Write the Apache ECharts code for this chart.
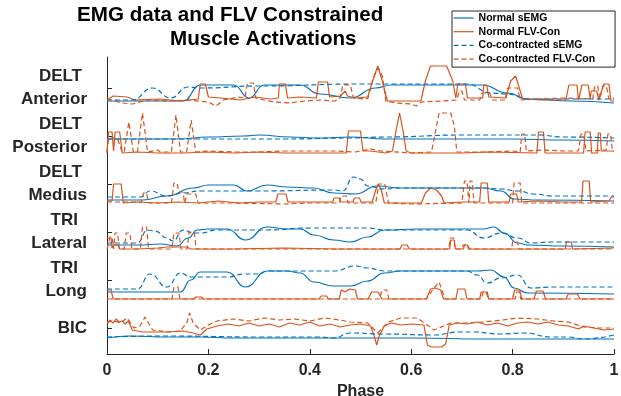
<!DOCTYPE html>
<html>
<head>
<meta charset="utf-8">
<script src="https://cdn.jsdelivr.net/npm/echarts@6/dist/echarts.min.js"></script>
<style>
html, body { margin: 0; padding: 0; background: #fff; }
#chart { width: 621px; height: 396px; }
</style>
</head>
<body>
<div id="chart"></div>
<script>
// rows from top to bottom, label lines
const muscles = [['DELT', 'Anterior'], ['DELT', 'Posterior'], ['DELT', 'Medius'], ['TRI', 'Lateral'], ['TRI', 'Long'], ['', 'BIC']];
const seriesNames = ['Normal sEMG', 'Normal FLV-Con', 'Co-contracted sEMG', 'Co-contracted FLV-Con'];
const rowGap = 48;

// [phase, activation relative to the row tick]
const antNormEmg = [[0,-13],[0.08,-13],[0.15,-13],[0.184,3],[0.25,3],[0.28,-10],[0.31,3],[0.38,3],[0.42,-6],[0.48,-10],[0.53,0],[0.56,3],[0.74,3],[0.79,-5],[0.83,-11],[0.915,-13],[1,-15]];
const antNormFlv = [[0,-12],[0.012,-8],[0.04,-9],[0.055,-12],[0.105,-11],[0.144,-13],[0.18,-11],[0.184,4],[0.194,4],[0.2,-9],[0.223,-10],[0.263,-12],[0.292,-9],[0.322,-11],[0.338,-10],[0.34,4],[0.352,4],[0.356,-10],[0.381,-9],[0.413,-10],[0.417,6],[0.435,6],[0.439,-9],[0.46,-8],[0.47,-3],[0.474,-8],[0.49,-10],[0.514,-9],[0.524,7],[0.534,22],[0.543,7],[0.553,-13],[0.579,-13],[0.619,-13],[0.628,7],[0.638,22],[0.67,22],[0.682,7],[0.688,-10],[0.692,4],[0.707,4],[0.711,-10],[0.741,-10],[0.743,3],[0.749,3],[0.753,-9],[0.787,-10],[0.796,7],[0.806,12],[0.812,2],[0.82,-11],[0.856,-12],[0.905,-12],[0.911,3],[0.927,3],[0.93,-12],[0.937,3],[0.949,3],[0.953,-11],[0.955,-3],[0.966,-3],[0.97,-12],[0.98,4],[0.99,4],[0.994,-13],[1,-13]];
const antCoEmg = [[0,-12],[0.05,-12],[0.09,0],[0.125,-10],[0.16,1],[0.185,0],[0.3,2],[0.5,4],[0.71,4],[0.757,-5],[0.79,-6],[0.83,-11],[1,-11]];
const antCoFlv = [[0,-11],[0.03,-15],[0.05,-16],[0.08,-12],[0.12,-13],[0.16,-12],[0.2,-14],[0.215,-18],[0.23,-12],[0.26,-9],[0.272,-10],[0.277,5],[0.289,5],[0.293,-10],[0.31,-12],[0.33,-14],[0.36,-15],[0.39,-13],[0.42,-12],[0.45,-13],[0.46,-10],[0.465,3],[0.48,3],[0.486,-10],[0.51,-11],[0.515,-10],[0.525,10],[0.535,20],[0.543,12],[0.55,-13],[0.57,-15],[0.6,-16],[0.61,-18],[0.62,-14],[0.66,-13],[0.69,-12],[0.695,-3],[0.7,-3],[0.705,-12],[0.735,-12],[0.74,-5],[0.755,-5],[0.76,-12],[0.785,-12],[0.79,0],[0.81,0],[0.815,-12],[0.85,-11],[0.9,-10],[0.958,-11],[0.962,2],[0.968,2],[0.972,-11],[0.978,2],[0.985,2],[0.99,-11],[1,-10]];

const posNormEmg = [[0,-3],[0.14,-3],[0.2,-1],[0.27,0],[0.3,1],[0.36,-1],[0.42,-2],[0.48,-1],[0.55,-3],[0.65,-3],[0.8,-3],[0.9,-4],[1,-5]];
const posNormFlv = [[0,-17],[0.003,4],[0.01,4],[0.013,-15],[0.016,4],[0.025,4],[0.03,-17],[0.06,-16],[0.1,-17],[0.15,-17],[0.2,-16],[0.25,-17],[0.3,-16],[0.35,-17],[0.44,-17],[0.472,-17],[0.476,5],[0.5,5],[0.505,-15],[0.52,-15],[0.55,-17],[0.563,-15],[0.57,5],[0.577,23],[0.584,5],[0.59,-15],[0.6,-17],[0.65,-17],[0.7,-17],[0.75,-16],[0.848,-17],[0.851,4],[0.861,4],[0.864,-17],[0.94,-17],[0.943,4],[0.953,4],[0.956,-17],[0.967,-17],[0.969,3],[0.973,3],[0.975,-15],[1,-15]];
const posCoEmg = [[0,-3],[0.2,-3],[0.35,-3],[0.48,-2],[0.55,-1],[0.7,1],[0.85,1],[0.9,-1],[1,-2]];
const posCoFlv = [[0,-16],[0.003,-2],[0.02,-2],[0.03,-16],[0.034,-16],[0.043,14],[0.052,-16],[0.06,-16],[0.07,23],[0.08,-16],[0.1,-14],[0.105,-16],[0.127,-16],[0.136,21],[0.145,-16],[0.157,-16],[0.166,16],[0.175,-16],[0.2,-15],[0.25,-16],[0.3,-16],[0.35,-15],[0.4,-15],[0.45,-15],[0.49,-16],[0.52,-13],[0.54,-15],[0.6,-17],[0.64,-16],[0.65,10],[0.655,23],[0.678,23],[0.685,10],[0.69,-16],[0.75,-16],[0.8,-15],[0.815,-16],[0.818,2],[0.824,2],[0.827,-15],[0.86,-14],[0.9,-15],[0.93,-15],[0.935,2],[0.94,2],[0.945,-15],[0.985,-14],[0.988,2],[0.993,2],[0.997,-15],[1,-15]];

const medNormEmg = [[0,-16],[0.07,-16],[0.118,-12],[0.17,-4],[0.2,-1],[0.25,-1],[0.276,-7],[0.316,-1],[0.355,-3],[0.408,-4],[0.447,-9],[0.49,-10],[0.533,-2],[0.58,-4],[0.68,-4],[0.743,-4],[0.777,-7],[0.803,-15],[0.85,-16],[1,-17]];
const medNormFlv = [[0,-17],[0.01,-17],[0.013,0],[0.028,0],[0.032,-19],[0.06,-18],[0.1,-19],[0.14,-18],[0.18,-19],[0.22,-17],[0.26,-19],[0.3,-18],[0.333,-18],[0.337,-10],[0.353,-10],[0.357,-18],[0.4,-18],[0.445,-18],[0.448,-14],[0.458,-14],[0.461,-18],[0.485,-18],[0.488,-14],[0.498,-14],[0.501,-18],[0.523,-18],[0.53,-6],[0.535,0],[0.541,-6],[0.547,-19],[0.58,-19],[0.62,-19],[0.628,-9],[0.638,-4],[0.65,-6],[0.66,-12],[0.665,-19],[0.7,-18],[0.735,-18],[0.738,1],[0.75,1],[0.753,-18],[0.793,-18],[0.796,-10],[0.808,-10],[0.811,-18],[0.85,-17],[0.9,-18],[0.936,-18],[0.939,3],[0.951,3],[0.954,-18],[0.99,-17],[0.995,-13],[1,-13]];
const medCoEmg = [[0,-13],[0.066,-13],[0.085,-7],[0.118,-12],[0.15,-9],[0.184,-7],[0.3,-7],[0.45,-6],[0.465,-7],[0.486,7],[0.5,5],[0.514,-2],[0.547,-5],[0.58,-4],[0.743,-4],[0.777,-5],[0.81,-7],[0.843,-10],[0.877,-12],[1,-12]];
const medCoFlv = [[0,-18],[0.068,-18],[0.072,-9],[0.078,-9],[0.082,-19],[0.127,-19],[0.132,1],[0.138,1],[0.142,-8],[0.15,-8],[0.153,-19],[0.158,-10],[0.175,-10],[0.18,-19],[0.25,-19],[0.35,-20],[0.4,-19],[0.458,-19],[0.462,-12],[0.472,-12],[0.476,-19],[0.53,-19],[0.536,0],[0.548,0],[0.555,-19],[0.6,-20],[0.7,-19],[0.705,3],[0.71,3],[0.714,-19],[0.716,3],[0.72,3],[0.724,-19],[0.8,-19],[0.803,1],[0.815,1],[0.818,-19],[0.9,-19],[1,-19]];

const latNormEmg = [[0,-13],[0.06,-13],[0.105,-12],[0.138,-14],[0.16,-6],[0.178,2],[0.2,3],[0.237,3],[0.273,-8],[0.316,5],[0.355,3],[0.381,3],[0.408,-3],[0.447,-8],[0.48,-10],[0.514,-5],[0.547,2],[0.613,3],[0.743,3],[0.763,5],[0.783,-1],[0.81,-11],[0.83,-13],[0.9,-14],[1,-15]];
const latNormFlv = [[0,-6],[0.008,-6],[0.01,-16],[0.014,-13],[0.022,-13],[0.025,-17],[0.06,-17],[0.1,-16],[0.118,-15],[0.158,-15],[0.165,-17],[0.25,-17],[0.35,-16],[0.45,-17],[0.55,-17],[0.578,-17],[0.582,-13],[0.592,-13],[0.596,-17],[0.676,-17],[0.678,-8],[0.685,-8],[0.687,-17],[0.703,-17],[0.705,-13],[0.711,-13],[0.713,-17],[0.8,-17],[0.904,-17],[0.906,-10],[0.916,-10],[0.918,-17],[1,-16]];
const latCoEmg = [[0,-11],[0.06,-11],[0.08,2],[0.095,1],[0.118,-6],[0.13,-9],[0.15,2],[0.17,-1],[0.184,-1],[0.217,2],[0.316,2],[0.4,4],[0.514,4],[0.547,2],[0.71,2],[0.743,-6],[0.777,-1],[0.81,-6],[0.836,-11],[0.877,-10],[1,-10]];
const latCoFlv = [[0,-17],[0.003,-17],[0.006,-5],[0.01,-5],[0.013,-17],[0.016,-1],[0.021,-1],[0.024,-17],[0.034,-17],[0.038,-1],[0.045,-1],[0.049,-17],[0.066,-17],[0.07,5],[0.078,5],[0.082,-17],[0.128,-17],[0.132,-1],[0.142,-1],[0.146,-17],[0.158,-17],[0.162,0],[0.172,0],[0.176,-17],[0.3,-17],[0.5,-17],[0.674,-17],[0.677,-6],[0.684,-6],[0.687,-17],[0.7,-17],[0.702,-13],[0.712,-13],[0.715,-17],[0.798,-17],[0.8,-10],[0.81,-10],[0.812,-17],[1,-17]];

const lonNormEmg = [[0,-12],[0.132,-12],[0.145,-12],[0.165,0],[0.184,8],[0.237,8],[0.273,-7],[0.316,9],[0.355,9],[0.381,7],[0.408,-2],[0.447,-6],[0.48,-6],[0.514,-1],[0.547,7],[0.58,9],[0.73,9],[0.757,10],[0.783,3],[0.803,-8],[0.83,-13],[1,-14]];
const lonNormFlv = [[0,-10],[0.008,-10],[0.012,-19],[0.1,-19],[0.17,-19],[0.175,-17],[0.186,-17],[0.19,-19],[0.3,-19],[0.418,-19],[0.422,-16],[0.433,-16],[0.437,-19],[0.458,-19],[0.462,-10],[0.47,-12],[0.478,-9],[0.49,-10],[0.494,-19],[0.515,-19],[0.522,-12],[0.535,-12],[0.542,-19],[0.63,-19],[0.638,-9],[0.648,-8],[0.658,-10],[0.664,-19],[0.688,-19],[0.692,-9],[0.706,-9],[0.71,-19],[0.735,-19],[0.738,-12],[0.75,-12],[0.753,-19],[0.8,-19],[0.804,-10],[0.814,-10],[0.818,-19],[0.842,-19],[0.847,-11],[0.86,-11],[0.865,-19],[0.905,-19],[0.91,-14],[0.928,-14],[0.933,-19],[1,-19]];
const lonCoEmg = [[0,-9],[0.06,-9],[0.085,6],[0.118,-7],[0.145,7],[0.165,3],[0.237,3],[0.27,6],[0.3,6],[0.316,9],[0.447,9],[0.49,14],[0.514,12],[0.547,9],[0.71,9],[0.73,5],[0.75,-3],[0.777,2],[0.81,5],[0.836,-8],[0.877,-7],[1,-7]];
const lonCoFlv = [[0,-19],[0.128,-19],[0.132,-7],[0.14,-7],[0.144,-19],[0.3,-19],[0.5,-19],[0.538,-19],[0.542,-10],[0.552,-10],[0.556,-19],[0.63,-19],[0.645,-8],[0.655,-2],[0.662,-12],[0.667,-19],[0.738,-19],[0.742,-12],[0.748,-12],[0.752,-19],[0.805,-19],[0.808,-12],[0.813,-12],[0.816,-19],[1,-19]];

const bicNormEmg = [[0,-10],[0.046,-8],[0.118,-9],[0.184,-9],[0.25,-10],[0.45,-10],[0.6,-10],[0.75,-11],[0.9,-11],[1,-11]];
const bicNormFlv = [[0,4],[0.006,8],[0.012,5],[0.018,9],[0.024,6],[0.03,7],[0.036,4],[0.042,7],[0.05,-2],[0.07,-4],[0.09,-4],[0.118,-4],[0.15,-3],[0.17,-5],[0.184,-7],[0.197,-1],[0.217,2],[0.24,4],[0.26,2],[0.28,5],[0.3,2],[0.32,4],[0.34,1],[0.36,5],[0.38,3],[0.4,6],[0.42,2],[0.44,4],[0.46,1],[0.48,3],[0.5,4],[0.52,2],[0.527,-8],[0.532,-17],[0.537,-8],[0.547,2],[0.56,5],[0.58,3],[0.6,4],[0.625,3],[0.632,-17],[0.64,-19],[0.66,-19],[0.668,-16],[0.675,3],[0.69,5],[0.71,4],[0.73,6],[0.75,3],[0.77,5],[0.79,2],[0.81,5],[0.83,6],[0.85,4],[0.87,6],[0.89,3],[0.91,2],[0.93,-1],[0.94,2],[0.96,0],[0.98,-2],[1,-1]];
const bicCoEmg = [[0,-9],[0.12,-8],[0.3,-9],[0.42,-9],[0.447,-10],[0.48,-5],[0.547,-6],[0.645,-7],[0.695,-4],[0.72,-4],[0.777,-6],[0.823,-5],[0.877,-9],[0.91,-9],[0.94,-11],[1,-7]];
const bicCoFlv = [[0,6],[0.015,7],[0.026,5],[0.04,10],[0.053,0],[0.065,2],[0.075,11],[0.083,4],[0.09,-2],[0.12,-4],[0.145,-3],[0.158,6],[0.163,15],[0.17,5],[0.184,-2],[0.2,3],[0.217,7],[0.25,9],[0.28,7],[0.31,10],[0.34,8],[0.37,9],[0.4,7],[0.43,10],[0.46,8],[0.48,6],[0.514,5],[0.534,-5],[0.555,6],[0.58,10],[0.612,10],[0.645,-2],[0.678,5],[0.71,5],[0.743,6],[0.78,8],[0.81,10],[0.85,9],[0.88,7],[0.91,6],[0.94,1],[0.97,0],[1,0]];

const rows = [
	[antNormEmg, antNormFlv, antCoEmg, antCoFlv],
	[posNormEmg, posNormFlv, posCoEmg, posCoFlv],
	[medNormEmg, medNormFlv, medCoEmg, medCoFlv],
	[latNormEmg, latNormFlv, latCoEmg, latCoFlv],
	[lonNormEmg, lonNormFlv, lonCoEmg, lonCoFlv],
	[bicNormEmg, bicNormFlv, bicCoEmg, bicCoFlv]
];

const blue = '#0072BD';
const orange = '#D95319';
const font = 'Liberation Sans, Arial, sans-serif';
const axisColor = '#262626';
const styles = [
	{color: blue, type: 'solid', smooth: 0.5},
	{color: orange, type: 'solid', smooth: false},
	{color: blue, type: [5, 3], smooth: 0.5},
	{color: orange, type: [5, 3], smooth: false}
];

const tickValues = muscles.map((m, i) => (muscles.length - 1 - i) * rowGap);

const series = [];
rows.forEach((row, r) => {
	const offset = (muscles.length - 1 - r) * rowGap;
	row.forEach((data, k) => {
		series.push({
			name: seriesNames[k],
			type: 'line',
			data: data.map(p => [p[0], p[1] + offset]),
			showSymbol: false,
			symbol: 'none',
			smooth: styles[k].smooth,
			smoothMonotone: 'x',
			color: styles[k].color,
			lineStyle: {color: styles[k].color, width: 1.2, type: styles[k].type},
			emphasis: {disabled: true}
		});
	});
});

const chart = echarts.init(document.getElementById('chart'));
chart.setOption({
	animation: false,
	backgroundColor: '#fff',
	title: [
		{text: 'EMG data and FLV Constrained', left: 72, top: 0,
			textStyle: {fontFamily: font, fontSize: 20.6, fontWeight: 'bold', color: '#000'}},
		{text: 'Muscle Activations', left: 165, top: 24,
			textStyle: {fontFamily: font, fontSize: 20.6, fontWeight: 'bold', color: '#000'}}
	],
	legend: {
		data: seriesNames,
		orient: 'vertical',
		left: 452,
		top: 11,
		padding: [1, 20, 2, 1],
		itemWidth: 20,
		itemHeight: 8,
		itemGap: 1.7,
		itemStyle: {opacity: 0},
		lineStyle: {width: 1.2},
		backgroundColor: '#fff',
		borderColor: axisColor,
		borderWidth: 1,
		selectedMode: false,
		textStyle: {fontFamily: font, fontSize: 10.5, fontWeight: 'bold', color: '#000', lineHeight: 12}
	},
	grid: {left: 107, right: 7, top: 57, bottom: 42, containLabel: false, outerBoundsMode: 'none'},
	xAxis: {
		type: 'value',
		min: 0,
		max: 1,
		interval: 0.2,
		name: 'Phase',
		nameLocation: 'middle',
		nameGap: 22,
		nameTextStyle: {fontFamily: font, fontSize: 16, fontWeight: 'bold', color: axisColor},
		axisLine: {show: true, onZero: false, lineStyle: {color: axisColor, width: 1}},
		axisTick: {show: true, inside: true, length: 5, lineStyle: {color: axisColor}},
		axisLabel: {fontFamily: font, fontSize: 16, fontWeight: 'bold', color: axisColor, margin: 9},
		splitLine: {show: false}
	},
	yAxis: {
		type: 'value',
		min: -26,
		max: 271,
		axisLine: {show: true, onZero: false, lineStyle: {color: axisColor, width: 1}},
		axisTick: {show: true, inside: true, length: 5, lineStyle: {color: axisColor}, customValues: tickValues},
		axisLabel: {
			customValues: tickValues,
			margin: 20,
			align: 'right',
			formatter: v => {
				const m = muscles[Math.round(muscles.length - 1 - v / rowGap)];
				if (!m[0]) return '{b|' + m[1] + '}';
				return '{' + (m[0] === 'TRI' ? 't' : 'd') + '|' + m[0] + '}\n{b|' + m[1] + '}';
			},
			rich: {
				d: {fontFamily: font, fontSize: 17, fontWeight: 'bold', color: axisColor, lineHeight: 23, padding: [0, 5, 0, 0]},
				t: {fontFamily: font, fontSize: 17, fontWeight: 'bold', color: axisColor, lineHeight: 23, padding: [0, 9, 0, 0]},
				b: {fontFamily: font, fontSize: 17, fontWeight: 'bold', color: axisColor, lineHeight: 23}
			}
		},
		splitLine: {show: false}
	},
	series: series
});
</script>
</body>
</html>
